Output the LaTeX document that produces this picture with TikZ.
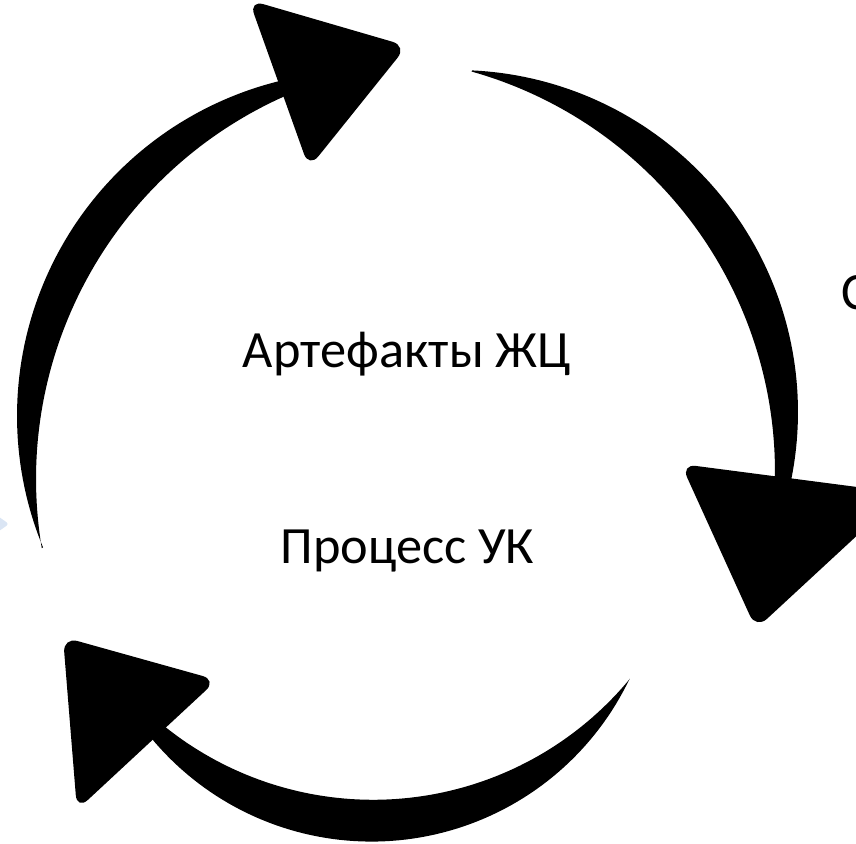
\documentclass[tikz,border=0pt]{standalone}
\usepackage{fontspec}
\setmainfont{Carlito}
\begin{document}
\begin{tikzpicture}[x=0.02cm,y=-0.02cm,
  arrowbody/.style={fill=black},
  arrowhd/.style={fill=black, rounded corners=0.3cm},
  lbl/.style={font=\fontsize{29.8}{34}\selectfont, anchor=base, inner sep=0pt}]
\useasboundingbox (0,0) rectangle (856,844);
\clip (0,0) rectangle (856,844);
\definecolor{paleblue}{RGB}{218,229,244}
% partly hidden pale blue shape at the left edge
\fill[paleblue, rounded corners=0.06cm] (-25,500) -- (9,524) -- (-25,548) -- cycle;
% arrow 1 (top right)
\fill[arrowbody] plot[domain=-87.3:12.5, samples=80, variable=\t] ({456+342*cos(\t)},{412+342*sin(\t)})
  -- plot[domain=1.5:-74.3, samples=80, variable=\t] ({359+416*cos(\t)},{472+416*sin(\t)}) -- cycle;
\fill[arrowhd] (681,464) -- (903,493) -- (756,629) -- cycle;
% arrow 2 (left)
\fill[arrowbody] plot[domain=157.6:262, samples=80, variable=\t] ({362+345*cos(\t)},{416+345*sin(\t)})
  -- plot[domain=252:170.5, samples=80, variable=\t] ({455+419*cos(\t)},{479+419*sin(\t)}) -- cycle;
\fill[arrowhd] (249,0) -- (407,46) -- (309,168) -- cycle;
% arrow 3 (bottom)
\fill[arrowbody] plot[domain=25.5:142, samples=80, variable=\t] ({371.5+286*cos(\t)},{555.6+286*sin(\t)})
  -- plot[domain=131:39.6, samples=80, variable=\t] ({373.1+333*cos(\t)},{466.8+333*sin(\t)}) -- cycle;
\fill[arrowhd] (63,637) -- (217,680) -- (77,810) -- cycle;
% texts
\node[lbl] (art) at (407,368) {Артефакты ЖЦ};
\node[lbl] (proc) at (407.5,563) {Процесс УК};
\node[lbl, anchor=base west] (cc) at (841,310) {С};
\end{tikzpicture}
\end{document}
